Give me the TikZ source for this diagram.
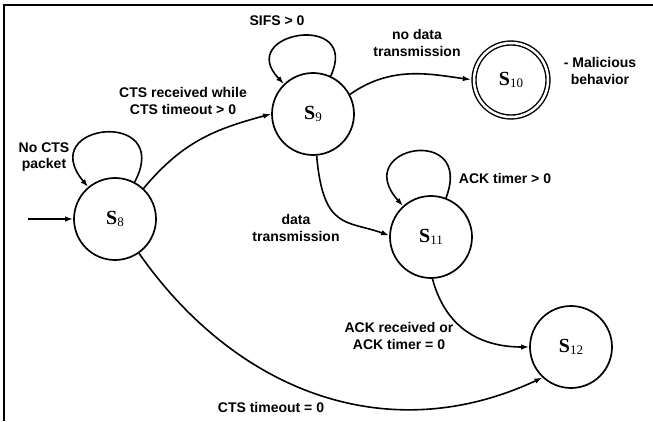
\documentclass[tikz,border=0pt]{standalone}
\usepackage{fontspec}
\setmainfont{Liberation Sans}
\newfontfamily\serifS{Liberation Serif}
\usetikzlibrary{arrows.meta}
\newcommand\Sn[1]{\textbf{S}\raisebox{-2.5pt}{\fontsize{13}{13}\selectfont #1}}
\begin{document}
\begin{tikzpicture}[x=1pt,y=1pt,
  state/.style={circle,draw,line width=1.7pt,minimum size=82pt,inner sep=0pt,font=\serifS\fontsize{20}{20}\selectfont},
  accept/.style={state,minimum size=74pt,line width=1.4pt,double,double distance=2.5pt},
  lbl/.style={font=\bfseries\fontsize{14}{16.5}\selectfont,align=center,inner sep=0pt},
  edge/.style={line width=1.6pt,-{Latex[length=8pt,width=5.5pt]}},
]
\useasboundingbox (0,0) rectangle (653,421);
\draw[line width=2pt] (4,0) -- (4,416) -- (653,416);

\node[state] (s8) at (115,202) {\Sn{8}};
\node[state] (s9) at (313,307) {\Sn{9}};
\node[accept] (s10) at (511,341) {\Sn{10}};
\node[state] (s11) at (431,184) {\Sn{11}};
\node[state] (s12) at (571,74) {\Sn{12}};

\coordinate (init) at (28,202);
\draw[edge] (init) -- (s8.west);

% loops
\draw[edge] (s8.62) .. controls +(62:84pt) and +(130:84pt) .. (s8.130);
\draw[edge] (s9.65) .. controls +(65:72pt) and +(134:72pt) .. (s9.134);
\draw[edge] (s11.69) .. controls +(69:80pt) and +(132:80pt) .. (s11.132);

% transitions
\draw[edge] (s8.47) .. controls +(50:60pt) and +(195:60pt) .. (s9.180);
\draw[edge,shorten >=2.5pt] (s9.28) .. controls +(35:50pt) and +(172:45pt) .. (s10.180);
\draw[edge] (s9.-85) .. controls +(-85:75pt) and +(160:45pt) .. (s11.178);
\draw[edge] (s11.-88) .. controls +(-75:50pt) and +(180:50pt) .. (s12.180);
\draw[edge] (s8.-55) .. controls +(-55:170pt) and +(205:170pt) .. (s12.227);

% labels
\node[lbl] (l1) at (44,264) {No CTS\\packet};
\node[lbl] (l2) at (183,320) {CTS received while\\CTS timeout > 0};
\node[lbl] (l3) at (277,400) {SIFS > 0};
\node[lbl] (l4) at (417,378) {no data\\transmission};
\node[lbl] (l5) at (600,350) {- Malicious\\behavior};
\node[lbl] (l6) at (296,193) {data\\transmission};
\node[lbl] (l7) at (505,243) {ACK timer > 0};
\node[lbl] (l8) at (399,85) {ACK received or\\ACK timer = 0};
\node[lbl] (l9) at (271,14) {CTS timeout = 0};
\end{tikzpicture}
\end{document}
